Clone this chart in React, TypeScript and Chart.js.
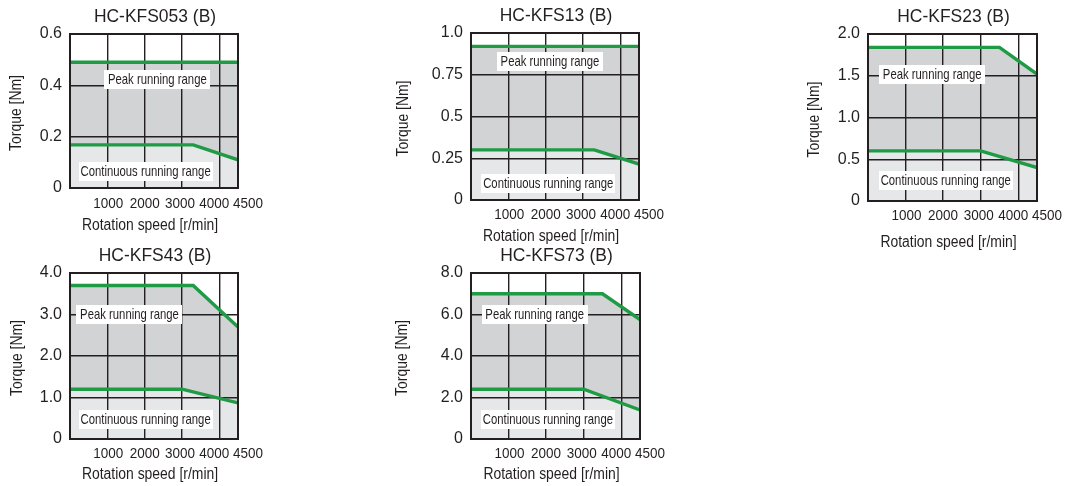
import React, { useEffect, useRef } from "react";
import { Chart, registerables } from "chart.js";

Chart.register(...registerables);

// ---------- data ----------
const MODEL_TITLES = ["HC-KFS053 (B)", "HC-KFS13 (B)", "HC-KFS23 (B)", "HC-KFS43 (B)", "HC-KFS73 (B)"];
const X_AXIS_TITLE = "Rotation speed [r/min]";
const Y_AXIS_TITLE = "Torque [Nm]";
const PEAK_LABEL = "Peak running range";
const CONT_LABEL = "Continuous running range";

const X_MAX = 4500;
const X_TICKS = [0, 1000, 2000, 3000, 4000, 4500];
const X_TICK_LABELS = ["", "1000", "2000", "3000", "4000", "4500"];

const Y_MAX = [0.6, 1.0, 2.0, 4.0, 8.0];
const Y_TICKS = [
  [0, 0.2, 0.4, 0.6],
  [0, 0.25, 0.5, 0.75, 1.0],
  [0, 0.5, 1.0, 1.5, 2.0],
  [0, 1, 2, 3, 4],
  [0, 2, 4, 6, 8],
];
const Y_TICK_LABELS = [
  ["0", "0.2", "0.4", "0.6"],
  ["0", "0.25", "0.5", "0.75", "1.0"],
  ["0", "0.5", "1.0", "1.5", "2.0"],
  ["0", "1.0", "2.0", "3.0", "4.0"],
  ["0", "2.0", "4.0", "6.0", "8.0"],
];

// peak running range curve (speed r/min, torque Nm)
const PEAK_SPEED = [
  [0, 4500],
  [0, 4500],
  [0, 3500, 4500],
  [0, 3300, 4500],
  [0, 3500, 4500],
];
const PEAK_TORQUE = [
  [0.49, 0.49],
  [0.92, 0.92],
  [1.84, 1.84, 1.52],
  [3.7, 3.7, 2.7],
  [7.0, 7.0, 5.75],
];

// continuous running range curve
const CONT_SPEED = [
  [0, 3300, 4500],
  [0, 3300, 4500],
  [0, 3000, 4500],
  [0, 3000, 4500],
  [0, 3000, 4500],
];
const CONT_TORQUE = [
  [0.168, 0.168, 0.11],
  [0.3, 0.3, 0.215],
  [0.6, 0.6, 0.4],
  [1.2, 1.2, 0.87],
  [2.4, 2.4, 1.4],
];

// ---------- layout / style ----------
const INK = "#231f20";
const GREEN = "#1f9a45";
const DARK_FILL = "#d1d3d4";
const LIGHT_FILL = "#e6e7e8";
const SANS = '"Liberation Sans", Arial, Helvetica, sans-serif';
const X_TICK_SHIFT = [0, 1, 0, -2, -5, 10];

type Panel = {
  left: number; top: number; width: number; height: number;
  area: [number, number, number, number]; // left, right, top, bottom (page coords)
  yTitleDx: number; xTitleDy: number; xTickDy: number;
  peakPos: [number, number]; contPos: [number, number];
};

const PANELS: Panel[] = [
  { left: 0, top: 0, width: 275, height: 240, area: [70, 238, 34, 188], yTitleDx: 53, xTitleDy: 38, xTickDy: 16, peakPos: [0.52, 0.295], contPos: [0.45, 0.89] },
  { left: 390, top: 0, width: 290, height: 250, area: [471, 639, 33, 200], yTitleDx: 67, xTitleDy: 37, xTickDy: 15, peakPos: [0.47, 0.17], contPos: [0.46, 0.9] },
  { left: 790, top: 0, width: 275, height: 260, area: [868, 1037, 34, 201], yTitleDx: 53, xTitleDy: 42, xTickDy: 15, peakPos: [0.38, 0.24], contPos: [0.46, 0.88] },
  { left: 0, top: 240, width: 280, height: 246, area: [70, 238, 273, 439], yTitleDx: 52, xTitleDy: 36, xTickDy: 15, peakPos: [0.354, 0.25], contPos: [0.45, 0.88] },
  { left: 390, top: 240, width: 290, height: 246, area: [471, 640, 273, 439], yTitleDx: 68, xTitleDy: 36, xTickDy: 15, peakPos: [0.377, 0.25], contPos: [0.455, 0.88] },
];

const PEAK_BOX_W = 106;
const CONT_BOX_W = 134;
const BOX_H = 19;

function scaledText(ctx: CanvasRenderingContext2D, text: string, x: number, y: number, size: number, sx: number, rot = 0) {
  ctx.save();
  ctx.translate(x, y);
  if (rot) ctx.rotate(rot);
  ctx.scale(sx, 1);
  ctx.fillStyle = INK;
  ctx.font = `${size}px ${SANS}`;
  ctx.textAlign = "center";
  ctx.textBaseline = "middle";
  ctx.fillText(text, 0, 0);
  ctx.restore();
}

function drawRangeLabel(ctx: CanvasRenderingContext2D, text: string, cx: number, cy: number, w: number) {
  ctx.save();
  ctx.fillStyle = "#ffffff";
  ctx.fillRect(Math.round(cx - w / 2), Math.round(cy - BOX_H / 2), w, BOX_H);
  ctx.restore();
  scaledText(ctx, text, cx, cy + 0.5, 14.5, 0.78);
}

const decorPlugin = {
  id: "decor",
  afterDraw(chart: any, _args: any, opts: any) {
    const { ctx, chartArea: a, scales } = chart;
    const xs = scales.x;
    const w = a.right - a.left;
    const h = a.bottom - a.top;
    ctx.save();
    // frame
    ctx.strokeStyle = INK;
    ctx.lineWidth = 2;
    ctx.strokeRect(a.left, a.top, w, h);
    ctx.restore();

    // range labels
    drawRangeLabel(ctx, PEAK_LABEL, a.left + w * opts.peakPos[0], a.top + h * opts.peakPos[1], PEAK_BOX_W);
    drawRangeLabel(ctx, CONT_LABEL, a.left + w * opts.contPos[0], a.top + h * opts.contPos[1], CONT_BOX_W);

    // title
    scaledText(ctx, opts.title, (a.left + a.right) / 2 + 1, a.top - 17, 18, 0.97);
    // x tick labels
    X_TICKS.forEach((v, i) => {
      const lbl = X_TICK_LABELS[i];
      if (!lbl) return;
      scaledText(ctx, lbl, xs.getPixelForValue(v) + X_TICK_SHIFT[i], a.bottom + opts.xTickDy, 14.5, 0.93);
    });
    // x title
    scaledText(ctx, X_AXIS_TITLE, (a.left + a.right) / 2 - 4, a.bottom + opts.xTitleDy, 16, 0.87);
    // y title
    scaledText(ctx, Y_AXIS_TITLE, a.left - opts.yTitleDx, (a.top + a.bottom) / 2 + 2, 16, 0.87, -Math.PI / 2);
  },
};

function TorqueChart({ index }: { index: number }) {
  const ref = useRef<HTMLCanvasElement | null>(null);
  const p = PANELS[index];
  useEffect(() => {
    if (!ref.current) return;
    const [aL, aR, aT, aB] = p.area;
    const yWidth = aL - p.left;
    const peakData = PEAK_SPEED[index].map((s, i) => ({ x: s, y: PEAK_TORQUE[index][i] }));
    const contData = CONT_SPEED[index].map((s, i) => ({ x: s, y: CONT_TORQUE[index][i] }));
    const chart = new Chart(ref.current, {
      type: "line",
      data: {
        datasets: [
          {
            label: "Continuous",
            data: contData,
            borderColor: GREEN,
            borderWidth: 3.4,
            backgroundColor: LIGHT_FILL,
            fill: "origin",
            pointRadius: 0,
            tension: 0,
          },
          {
            label: "Peak",
            data: peakData,
            borderColor: GREEN,
            borderWidth: 3.4,
            backgroundColor: DARK_FILL,
            fill: "origin",
            pointRadius: 0,
            tension: 0,
          },
        ],
      },
      options: {
        animation: false,
        responsive: false,
        events: [],
        layout: {
          padding: {
            left: 0,
            top: aT - p.top,
            right: p.left + p.width - aR,
            bottom: p.top + p.height - aB,
          },
        },
        scales: {
          x: {
            type: "linear",
            min: 0,
            max: X_MAX,
            afterBuildTicks: (s: any) => {
              s.ticks = X_TICKS.map((v) => ({ value: v }));
            },
            afterFit: (s: any) => {
              s.height = 0;
            },
            ticks: { display: false },
            grid: { color: INK, lineWidth: 1.4, drawTicks: false },
            border: { display: false },
          },
          y: {
            type: "linear",
            min: 0,
            max: Y_MAX[index],
            afterBuildTicks: (s: any) => {
              s.ticks = Y_TICKS[index].map((v) => ({ value: v }));
            },
            afterFit: (s: any) => {
              s.width = yWidth;
            },
            ticks: {
              padding: 8,
              color: INK,
              font: { family: SANS, size: 16 },
              callback: (_v: any, i: number) => Y_TICK_LABELS[index][i],
            },
            grid: { color: INK, lineWidth: 1.4, drawTicks: false },
            border: { display: false },
          },
        },
        plugins: {
          legend: { display: false },
          tooltip: { enabled: false },
          filler: { drawTime: "beforeDraw" },
          decor: {
            title: MODEL_TITLES[index],
            yTitleDx: p.yTitleDx,
            xTitleDy: p.xTitleDy,
            xTickDy: p.xTickDy,
            peakPos: p.peakPos,
            contPos: p.contPos,
          },
        } as any,
      },
      plugins: [decorPlugin],
    });
    return () => chart.destroy();
  }, [index]);

  return (
    <canvas
      ref={ref}
      width={p.width}
      height={p.height}
      style={{ position: "absolute", left: p.left, top: p.top, width: p.width, height: p.height }}
    />
  );
}

export default function App() {
  return (
    <div style={{ position: "absolute", left: 0, top: 0, width: 1065, height: 486, background: "#ffffff" }}>
      {PANELS.map((_, i) => (
        <TorqueChart key={i} index={i} />
      ))}
    </div>
  );
}
